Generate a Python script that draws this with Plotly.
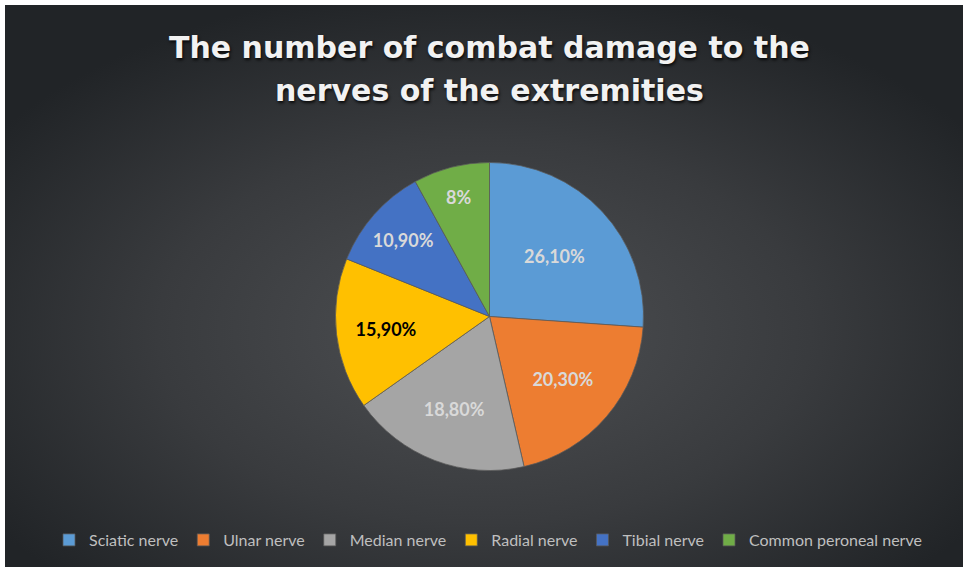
import base64
import plotly.graph_objects as go

# Share of combat injuries by nerve of the extremities (%)
nerves = ["Sciatic nerve", "Ulnar nerve", "Median nerve", "Radial nerve",
          "Tibial nerve", "Common peroneal nerve"]
shares = [26.1, 20.3, 18.8, 15.9, 10.9, 8.0]
share_labels = ["26,10%", "20,30%", "18,80%", "15,90%", "10,90%", "8%"]

slice_colors = ["#5B9BD5", "#ED7D31", "#A5A5A5", "#FFC000", "#4472C4", "#70AD47"]
label_colors = ["#D9D9D9", "#D9D9D9", "#D9D9D9", "#000000", "#D9D9D9", "#D9D9D9"]

title_lines = ["The number of combat damage to the", "nerves of the extremities"]
title_line_centers = [47, 90]  # px from the top

W, H = 964, 568

# dark radial-gradient backdrop
svg = f"""<svg xmlns='http://www.w3.org/2000/svg' width='{W}' height='{H}'>
<defs><radialGradient id='g' cx='50%' cy='58%' r='62%'>
<stop offset='0%' stop-color='#4E5053'/>
<stop offset='55%' stop-color='#393B3E'/>
<stop offset='100%' stop-color='#212427'/>
</radialGradient></defs>
<rect x='5' y='5' width='{W-6}' height='{H-6}' fill='url(#g)'/>
</svg>"""
bg_src = "data:image/svg+xml;base64," + base64.b64encode(svg.encode()).decode()

fig = go.Figure(go.Pie(
    labels=nerves,
    values=shares,
    text=share_labels,
    textinfo="text",
    textposition="inside",
    insidetextorientation="horizontal",
    textfont=dict(family="Lato", size=18, color=label_colors, weight="bold"),
    marker=dict(colors=slice_colors, line=dict(color="#595959", width=0.75)),
    sort=False,
    direction="clockwise",
    rotation=0,
    hole=0,
    domain=dict(x=[335.5 / W, 643.5 / W], y=[1 - 470.5 / H, 1 - 162.5 / H]),
    hoverinfo="label+text",
))

title_font = dict(family="DejaVu Sans", size=30, color="#F2F2F2", weight="bold",
                  shadow="1px 2px 3px rgba(0,0,0,0.8)")

fig.update_layout(
    width=W, height=H,
    margin=dict(l=0, r=0, t=0, b=0),
    paper_bgcolor="white",
    plot_bgcolor="rgba(0,0,0,0)",
    images=[dict(source=bg_src, xref="paper", yref="paper", x=0, y=1,
                 sizex=1, sizey=1, xanchor="left", yanchor="top",
                 sizing="stretch", layer="below")],
    annotations=[
        dict(text=line, xref="paper", yref="paper", x=489 / W, y=1 - cy / H,
             xanchor="center", yanchor="middle", showarrow=False,
             font=title_font)
        for line, cy in zip(title_lines, title_line_centers)
    ],
    legend=dict(
        orientation="h", x=488 / W, xanchor="center", y=1 - 540 / H, yanchor="middle",
        font=dict(family="Lato", size=16, color="#BFBFBF"),
        bgcolor="rgba(0,0,0,0)", itemwidth=30,
        traceorder="normal",
    ),
    showlegend=True,
)

fig.write_html("out.html")
